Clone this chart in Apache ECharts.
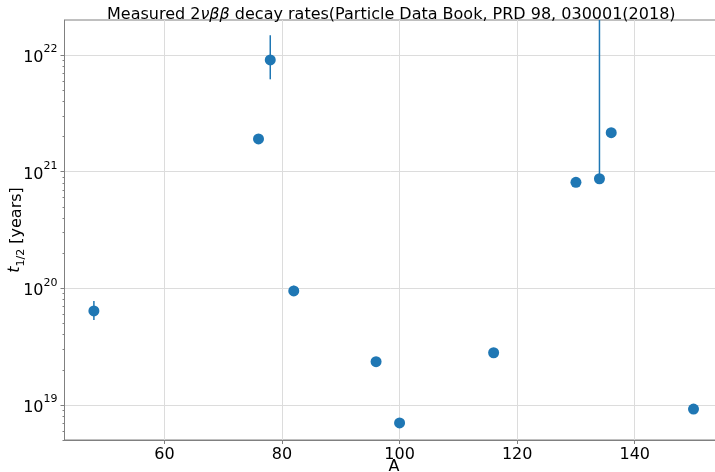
<!DOCTYPE html>
<html>
<head>
<meta charset="utf-8">
<script src="https://cdn.jsdelivr.net/npm/echarts@6/dist/echarts.min.js"></script>
<style>
html,body{margin:0;padding:0;background:#fff;}
#chart{width:715px;height:472px;}
</style>
</head>
<body>
<div id="chart"></div>
<script>
// Mass number A
const massNumber = [48, 76, 78, 82, 96, 100, 116, 130, 134, 136, 150];
// Measured half-life t1/2 [years]
const halfLife = [6.4e19, 1.91e21, 9.1e21, 9.5e19, 2.35e19, 7.0e18, 2.8e19, 8.1e20, 8.7e20, 2.16e21, 9.2e18];
// Error bar bounds (null = bar hidden behind marker)
const errLower = [5.35e19, null, 6.2e21, 8.6e19, null, null, null, null, 8.7e20, null, null];
const errUpper = [7.8e19, null, 1.48e22, 1.05e20, null, null, null, null, 1.0e23, null, null];
// Axis ticks
const xTicks = [60, 80, 100, 120, 140];
const yTickPowers = [19, 20, 21, 22];
const yMajorTicks = [1e19, 1e20, 1e21, 1e22];
const yMinorTicks = [
  5e18, 6e18, 7e18, 8e18, 9e18,
  2e19, 3e19, 4e19, 5e19, 6e19, 7e19, 8e19, 9e19,
  2e20, 3e20, 4e20, 5e20, 6e20, 7e20, 8e20, 9e20,
  2e21, 3e21, 4e21, 5e21, 6e21, 7e21, 8e21, 9e21,
  2e22
];

const blue = '#1f77b4';
const font = 'DejaVu Sans';

const points = massNumber.map((a, i) => [a, halfLife[i]]);
const bars = [];
massNumber.forEach((a, i) => {
  if (errLower[i] !== null) bars.push([a, errLower[i], errUpper[i]]);
});

const chart = echarts.init(document.getElementById('chart'), null, {renderer: 'canvas'});
chart.setOption({
  animation: false,
  backgroundColor: '#ffffff',
  textStyle: {fontFamily: font},
  title: {
    text: 'Measured 2{i|νββ} decay rates(Particle Data Book, PRD 98, 030001(2018)',
    left: 102,
    top: 2,
    textStyle: {
      fontFamily: font, fontSize: 16, fontWeight: 'normal', color: '#000',
      rich: {i: {fontFamily: font, fontSize: 16, fontStyle: 'italic', color: '#000'}}
    }
  },
  grid: {
    left: 64.5, top: 20, width: 659, height: 420,
    containLabel: false,
    outerBoundsMode: 'none',
    show: true, borderColor: '#808080', borderWidth: 1, backgroundColor: 'transparent'
  },
  xAxis: {
    type: 'value',
    min: 43.0, max: 155.1,
    splitNumber: 5,
    name: 'A',
    nameLocation: 'middle',
    nameGap: 19,
    nameMoveOverlap: false,
    nameTextStyle: {fontFamily: font, fontSize: 16, color: '#000', verticalAlign: 'top'},
    axisLine: {show: true, lineStyle: {color: '#808080', width: 1}},
    axisTick: {show: true, length: 4, lineStyle: {color: '#808080'},
      customValues: xTicks},
    axisLabel: {
      fontFamily: font, fontSize: 16, color: '#000', margin: 7,
      customValues: xTicks,
      formatter: v => (xTicks.indexOf(Math.round(v)) >= 0 && Math.abs(v - Math.round(v)) < 1e-6) ? String(Math.round(v)) : ''
    },
    splitLine: {show: true, lineStyle: {color: '#dcdcdc', width: 1}}
  },
  yAxis: [{
    type: 'log',
    logBase: 10,
    min: 5e18, max: 2e22,
    name: '{t|t}{s|1/2} [years]',
    nameLocation: 'middle',
    nameRotate: 90,
    nameGap: 38,
    nameMoveOverlap: false,
    nameTextStyle: {
      fontFamily: font, fontSize: 16, color: '#000',
      rich: {
        t: {fontFamily: font, fontSize: 16, fontStyle: 'italic', color: '#000', lineHeight: 20, verticalAlign: 'top'},
        s: {fontFamily: font, fontSize: 11, color: '#000', lineHeight: 20, verticalAlign: 'bottom', padding: [6, 0, 0, 0]}
      }
    },
    axisLine: {show: true, lineStyle: {color: '#808080', width: 1}},
    axisTick: {show: true, length: 4, lineStyle: {color: '#808080'}, customValues: yMajorTicks},
    axisLabel: {
      fontFamily: font, fontSize: 16, color: '#000', margin: 7,
      customValues: yMajorTicks,
      formatter: v => {
        const p = Math.log10(v);
        const r = Math.round(p);
        if (Math.abs(p - r) > 1e-6 || yTickPowers.indexOf(r) < 0) return '';
        return '{b|10}{s|' + r + '}';
      },
      rich: {
        b: {fontFamily: font, fontSize: 16, color: '#000', lineHeight: 22, verticalAlign: 'bottom'},
        s: {fontFamily: font, fontSize: 11, color: '#000', lineHeight: 14, verticalAlign: 'top'}
      }
    },
    splitLine: {show: true, lineStyle: {color: '#dcdcdc', width: 1}}
  }, {
    type: 'log',
    logBase: 10,
    position: 'left',
    min: 5e18, max: 2e22,
    axisLine: {show: false},
    axisTick: {show: true, length: 2, lineStyle: {color: '#808080'}, customValues: yMinorTicks},
    axisLabel: {show: false},
    splitLine: {show: false}
  }],
  series: [
    {
      type: 'custom',
      name: 'error',
      data: bars,
      encode: {x: 0, y: [1, 2]},
      renderItem: function (params, api) {
        const x = api.value(0);
        const p1 = api.coord([x, api.value(1)]);
        const p2 = api.coord([x, api.value(2)]);
        const cs = params.coordSys;
        const clamp = y => Math.min(Math.max(y, cs.y), cs.y + cs.height);
        return {
          type: 'line',
          shape: {x1: p1[0], y1: clamp(p1[1]), x2: p2[0], y2: clamp(p2[1])},
          style: {stroke: blue, lineWidth: 1.5, opacity: 1}
        };
      },
      z: 2
    },
    {
      type: 'scatter',
      name: 't1/2',
      data: points,
      symbol: 'circle',
      symbolSize: 11,
      itemStyle: {color: blue, opacity: 1},
      z: 3
    }
  ]
});
</script>
</body>
</html>
